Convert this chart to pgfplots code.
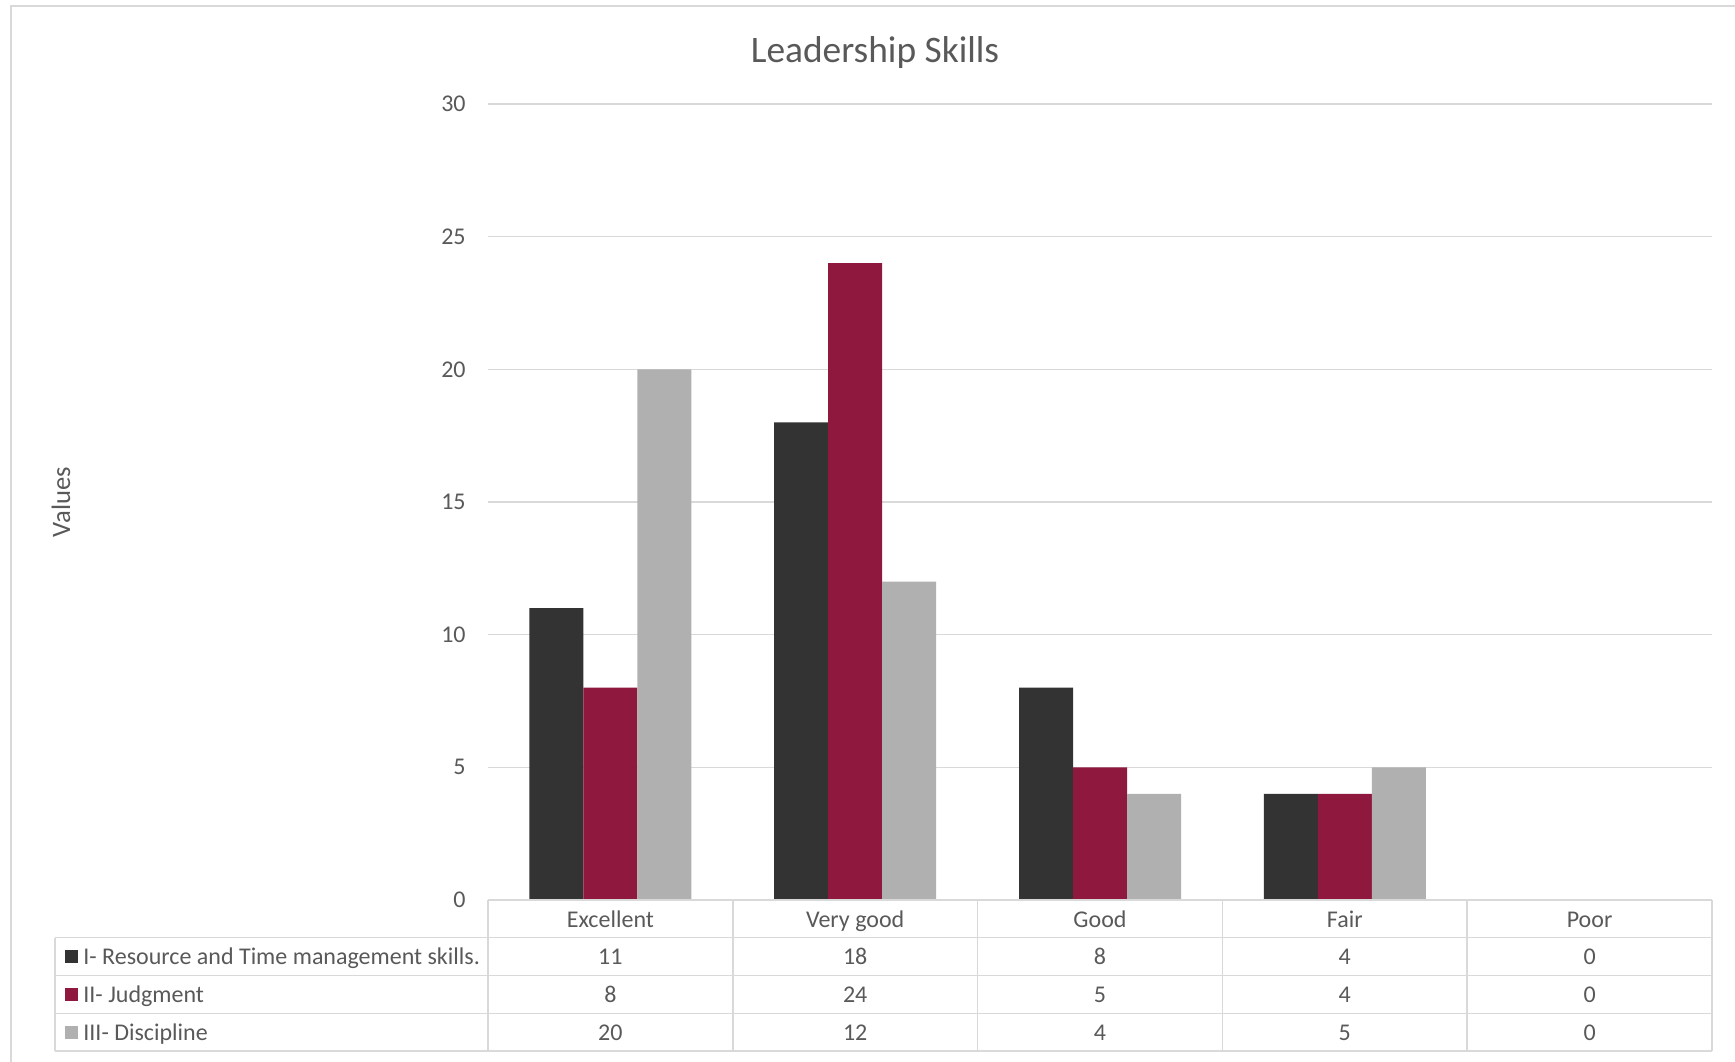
\documentclass[border=0pt]{standalone}
\usepackage{pgfplots}
\pgfplotsset{compat=1.18}
\usepackage{pgfplotstable}
\usepackage{fontspec}
\setmainfont{Carlito}
\definecolor{txt}{HTML}{595959}
\definecolor{gridc}{HTML}{D9D9D9}
\definecolor{sA}{HTML}{333333}
\definecolor{sB}{HTML}{8E183E}
\definecolor{sC}{HTML}{B0B0B0}

\pgfplotstableread{
x A B C
0 11 8 20
1 18 24 12
2 8 5 4
3 4 4 5
4 0 0 0
}\datatable

\begin{document}
\begin{tikzpicture}[x=1pt,y=1pt]
\useasboundingbox (0,0) rectangle (867.5,530.5);
\draw[gridc, line width=0.75pt] (5.5,-2) -- (5.5,527.5) -- (875,527.5);
\node[txt, font=\fontsize{18.7}{22}\selectfont] at (437.5,504.4) {Leadership Skills};
\node[txt, rotate=90, font=\fontsize{13.3}{16}\selectfont] at (30.5,279.5) {Values};
\begin{axis}[
  at={(244pt,80.5pt)}, anchor=south west,
  width=612pt, height=398pt, scale only axis,
  xmin=-0.5, xmax=4.5, ymin=0, ymax=30,
  ytick={0,5,...,30},
  xtick={0,1,2,3,4},
  xticklabels={Excellent,Very good,Good,Fair,Poor},
  ymajorgrids, grid style={gridc, line width=0.75pt},
  axis line style={draw=none},
  major tick length=0pt,
  /pgf/number format/assume math mode=true,
  yticklabel style={font=\fontsize{12}{14}\selectfont, text=txt, inner sep=0pt, anchor=east, xshift=-11pt},
  xticklabel style={font=\fontsize{12}{14}\selectfont, text=txt, inner sep=0pt, anchor=base, yshift=-13.6pt},
  ybar=0pt, bar width=27pt,
  clip=false,
]
\addplot[fill=sA, draw=none] table[x=x, y=A] {\datatable};
\addplot[fill=sB, draw=none] table[x=x, y=B] {\datatable};
\addplot[fill=sC, draw=none] table[x=x, y=C] {\datatable};
\end{axis}
% data table grid
\begin{scope}[gridc, line width=0.75pt]
\draw (244,80.5) -- (856,80.5);
\foreach \yy in {61.75,42.75,23.75,5} { \draw (27.5,\yy) -- (856,\yy); }
\draw (27.5,5) -- (27.5,61.75);
\foreach \k in {0,...,5} { \draw ({244+122.4*\k},5) -- ({244+122.4*\k},80.5); }
\end{scope}
% legend keys and names
\fill[sA] (32.5,49) rectangle +(6.5,6.5);
\fill[sB] (32.5,30) rectangle +(6.5,6.5);
\fill[sC] (32.5,11.1) rectangle +(6.5,6.5);
\begin{scope}[every node/.style={txt, font=\fontsize{12}{14}\selectfont, inner sep=0pt}]
\node[anchor=base west] at (41.5,48.25) {I- Resource and Time management skills.};
\node[anchor=base west] at (41.5,29.25) {II- Judgment};
\node[anchor=base west] at (41.5,10.4) {III- Discipline};
\foreach \i in {0,...,4} {
  \foreach \col/\yy in {A/48.25,B/29.25,C/10.4} {
    \pgfplotstablegetelem{\i}{\col}\of\datatable
    \node[anchor=base] at ({305.2+122.4*\i},\yy) {\pgfplotsretval};
  }
}
\end{scope}
\end{tikzpicture}
\end{document}
